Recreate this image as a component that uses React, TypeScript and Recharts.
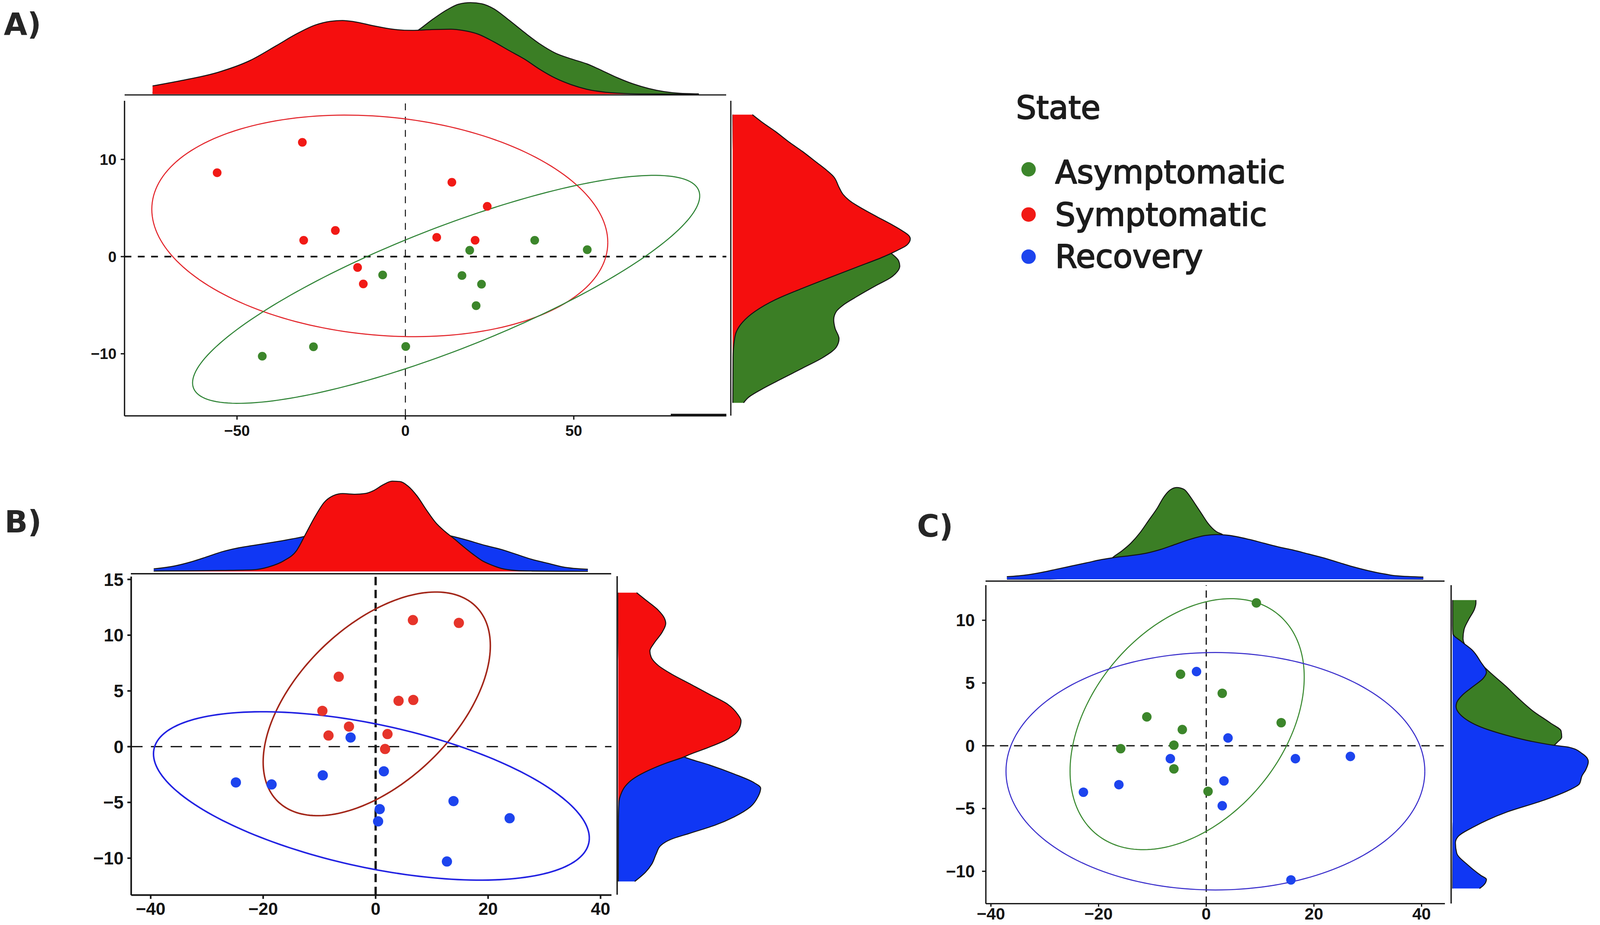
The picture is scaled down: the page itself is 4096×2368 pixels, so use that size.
import React from "react";
import {
  ScatterChart,
  Scatter,
  AreaChart,
  Area,
  XAxis,
  YAxis,
  ReferenceLine,
} from "recharts";

// Everything is laid out in reference pixels (4212 x 2435) and drawn at S.
const S = 0.972;
const INK = "#141414";

// ── Colours ──────────────────────────────────────────────────
const FILL_RED = "#F50E0E";
const FILL_GREEN = "#3B7E25";
const FILL_BLUE = "#1037F4";
const PT_GREEN = "#3C862B";
const PT_RED = "#F11A16";
const PT_RED_B = "#E6342A";
const PT_BLUE = "#1D44EE";

// ── Legend ───────────────────────────────────────────────────
const LEGEND_TITLE = "State";
const STATES = ["Asymptomatic", "Symptomatic", "Recovery"];

// ── Panel A: PCA scores [PC1, PC2] ───────────────────────────
const A_ASYM = [
  [19.1, 0.65], [38.4, 1.68], [54.0, 0.71], [-6.75, -1.89], [16.8, -1.95],
  [22.6, -2.84], [21.0, -5.05], [-27.3, -9.28], [-42.5, -10.25], [0.1, -9.25],
];
const A_SYMP = [
  [-55.9, 8.63], [-30.6, 11.76], [13.8, 7.65], [24.3, 5.17], [-20.8, 2.69],
  [-30.2, 1.68], [9.3, 1.98], [20.7, 1.68], [-14.2, -1.12], [-12.5, -2.81],
];
// ellipse outlines: [centre x, centre y, half-width, half-height, correlation]
const A_ELL_ASYM = [12.1, -3.37, 75.3, 11.73, 0.82];
const A_ELL_SYMP = [-7.6, 3.16, 67.7, 11.4, -0.15];
const A_X_TICKS = [-50, 0, 50];
const A_Y_TICKS = [-10, 0, 10];
// marginal densities [position, relative density]
const A_TOP_ASYM = [
  [-75.1, 5], [-67.0, 8], [-55.5, 28], [-46.3, 48], [-38.3, 62], [-26.8, 68],
  [-15.3, 92], [-3.75, 138], [3.7, 168], [7.75, 195], [12.3, 222], [15.8, 237],
  [19.3, 241], [22.7, 238], [26.2, 225], [30.75, 195], [35.4, 162], [39.95, 132],
  [44.55, 108], [49.2, 93], [53.8, 80], [58.4, 62], [63.0, 43], [67.6, 27],
  [72.2, 15], [76.8, 6.7], [81.4, 2.3], [87.1, 0.7],
];
const A_TOP_SYMP = [
  [-75.1, 21.7], [-67.0, 35], [-55.5, 58], [-46.3, 88], [-38.3, 128], [-32.5, 158],
  [-26.8, 182], [-22.2, 192], [-18.7, 194], [-15.3, 191], [-9.5, 180], [-3.75, 171],
  [2.0, 168], [7.75, 170], [13.5, 171], [16.95, 168], [21.6, 158], [26.2, 138],
  [30.75, 115], [35.4, 92], [39.95, 65], [44.55, 42], [49.2, 25], [53.8, 13],
  [59.5, 5], [65.3, 1.7], [71.0, 0.5], [87.1, 0],
];
const A_RIGHT_ASYM = [
  [14.61, 0.3], [11.8, 1], [9.74, 3], [8.22, 6], [6.39, 14], [4.87, 40], [3.36, 110],
  [2.71, 180], [2.16, 260], [1.19, 360], [0.65, 405], [0.22, 421], [-0.43, 437],
  [-0.97, 440], [-1.52, 434], [-2.16, 416], [-2.92, 380], [-4.11, 326.7], [-4.98, 291],
  [-5.63, 273], [-6.49, 266], [-7.36, 269.5], [-8.44, 280], [-9.3, 273], [-10.39, 237],
  [-11.47, 184], [-12.55, 130], [-13.63, 77], [-14.5, 41], [-15.04, 28.6],
];
const A_RIGHT_SYMP = [
  [14.61, 51.8], [13.85, 76.8], [12.88, 112.5], [11.8, 148.2], [10.82, 183.9],
  [9.74, 219.6], [8.87, 248.1], [8.22, 266], [7.14, 280], [6.39, 291], [5.73, 309],
  [4.87, 344.5], [4.11, 380], [3.36, 416], [2.71, 444.5], [2.16, 464], [1.84, 467.7],
  [1.19, 458.7], [0.65, 433.8], [0, 398], [-1.08, 326.7], [-2.16, 255], [-3.25, 184],
  [-4.43, 112.5], [-5.63, 59], [-6.71, 26.8], [-7.79, 9], [-8.87, 3.6], [-10.39, 1],
  [-13.63, 0.4], [-15.04, 0.2],
];

// ── Panel B ──────────────────────────────────────────────────
const B_SYMP = [
  [6.63, 11.35], [14.8, 11.1], [-6.56, 6.27], [4.08, 4.11], [6.7, 4.19],
  [-9.47, 3.21], [-4.74, 1.8], [-8.38, 1.0], [2.11, 1.13], [1.68, -0.21],
];
const B_RECOV = [
  [-4.45, 0.82], [1.46, -2.21], [-9.4, -2.57], [-24.85, -3.21], [-18.5, -3.39],
  [13.85, -4.88], [23.83, -6.42], [0.73, -5.6], [0.44, -6.7], [12.68, -10.3],
];
const B_ELL_SYMP = [0.2, 3.84, 20.2, 10.03, 0.52];
const B_ELL_RECOV = [-0.75, -4.42, 38.75, 7.55, -0.5];
const B_X_TICKS = [-40, -20, 0, 20, 40];
const B_Y_TICKS = [-10, -5, 0, 5, 10, 15];
const B_TOP_SYMP = [
  [-39.4, 1], [-32.8, 1.7], [-27.3, 2.7], [-21.8, 4.3], [-19.0, 11.7], [-16.25, 28.3],
  [-14.0, 55], [-12.4, 98.3], [-10.7, 145], [-9.1, 181.7], [-7.4, 200], [-5.8, 205],
  [-3.6, 203.3], [-1.9, 205], [-0.26, 213.3], [1.4, 228.3], [3.0, 237.7], [4.4, 236.7],
  [5.8, 225], [7.45, 198.3], [9.1, 161.7], [10.75, 128.3], [12.4, 105], [14.1, 85],
  [15.7, 65], [17.4, 45], [19.0, 28.3], [20.7, 16.7], [22.3, 8.3], [25.1, 2.3],
  [27.85, 1], [33.4, 0.3], [37.8, 0.3],
];
const B_TOP_RECOV = [
  [-39.4, 6.7], [-35.5, 15], [-32.8, 25], [-30.0, 38.3], [-27.3, 51.7], [-24.5, 61.7],
  [-21.8, 68.3], [-19.0, 75], [-16.25, 81.7], [-13.5, 89.3], [-10.7, 98.3], [-5.2, 111.7],
  [0.3, 115], [5.8, 111.7], [11.3, 100], [13.0, 95], [15.7, 85], [19.6, 68.3],
  [22.3, 58.3], [25.1, 45], [27.85, 31.7], [30.6, 21.7], [33.4, 11.7], [37.8, 5.7],
];
const B_RIGHT_SYMP = [
  [13.78, 48.3], [13.14, 71.7], [12.22, 105], [11.48, 121.7], [11.02, 125], [10.2, 115],
  [9.28, 95], [8.54, 83.3], [7.99, 86.7], [7.26, 105], [6.52, 138.3], [5.61, 188.3],
  [4.69, 238.3], [3.77, 288.3], [2.85, 315], [2.3, 323.3], [1.56, 318.3], [0.65, 288.3],
  [-0.09, 238.3], [-0.73, 188.3], [-0.97, 171.7], [-1.56, 121.7], [-2.29, 71.7],
  [-2.94, 38.3], [-3.58, 18.3], [-4.31, 6.7], [-5.05, 1.7], [-6.88, 0.3], [-12.12, 0],
];
const B_RIGHT_RECOV = [
  [13.78, 0], [9.28, 0.5], [7.26, 2], [5.61, 5], [3.77, 15], [2.3, 35], [1.56, 60],
  [0.65, 100], [-0.09, 135], [-0.73, 162], [-0.97, 175], [-1.65, 238.3], [-2.48, 305],
  [-3.21, 355], [-3.76, 375], [-4.5, 368.3], [-5.42, 348.3], [-6.33, 305], [-7.07, 255],
  [-7.8, 188.3], [-8.35, 138.3], [-8.9, 111.7], [-9.64, 100], [-10.56, 88.3],
  [-11.29, 71.7], [-12.12, 43.3],
];

// ── Panel C ──────────────────────────────────────────────────
const C_ASYM = [
  [9.31, 11.38], [-4.78, 5.7], [2.97, 4.18], [-11.04, 2.3], [13.92, 1.84],
  [-4.45, 1.29], [-6.01, 0.05], [-15.9, -0.23], [-6.01, -1.84], [0.33, -3.63],
];
const C_RECOV = [
  [-1.81, 5.91], [4.04, 0.62], [-6.67, -1.03], [16.56, -1.03], [26.77, -0.85],
  [3.29, -2.8], [-16.23, -3.1], [-22.82, -3.7], [2.97, -4.78], [15.73, -10.69],
];
const C_ELL_ASYM = [-3.55, 1.72, 21.75, 10.0, 0.375];
const C_ELL_RECOV = [1.7, -2.03, 38.9, 9.46, 0.0];
const C_X_TICKS = [-40, -20, 0, 20, 40];
const C_Y_TICKS = [-10, -5, 0, 5, 10];
const C_TOP_ASYM = [
  [-36.98, 0], [-30.4, 0.3], [-24.91, 3.3], [-22.17, 11.7], [-19.42, 28.3], [-17.23, 58.3],
  [-15.58, 75], [-13.94, 95], [-12.29, 121.7], [-10.64, 155], [-9.0, 188.3], [-7.9, 215],
  [-6.8, 233.3], [-5.43, 241.7], [-4.06, 236.7], [-2.96, 218.3], [-1.86, 195],
  [-0.77, 171.7], [0.33, 148.3], [1.97, 125], [3.07, 117.7], [4.17, 105], [8.01, 68.3],
  [13.5, 41.7], [18.98, 21.7], [24.47, 8.3], [29.96, 1.7], [40.38, 0],
];
const C_TOP_RECOV = [
  [-36.98, 6.7], [-33.14, 11.7], [-30.4, 18.3], [-27.65, 26.7], [-24.91, 35],
  [-22.17, 43.3], [-19.42, 51.7], [-17.23, 56.7], [-13.94, 62.3], [-11.19, 68.3],
  [-8.45, 78.3], [-5.71, 91.7], [-2.96, 105], [-0.22, 115], [1.97, 117.7], [4.17, 115.7],
  [8.01, 105], [10.75, 95], [13.5, 85], [16.24, 76.7], [18.98, 66.7], [21.73, 56.7],
  [24.47, 45], [27.21, 33.3], [29.96, 23.3], [32.7, 15], [35.44, 9], [40.38, 5.7],
];
const C_RIGHT_ASYM = [
  [11.61, 61.3], [11.37, 61.3], [10.88, 57.3], [10.07, 42.3], [9.26, 30], [8.54, 27.3],
  [7.81, 37.3], [7.16, 57.3], [6.35, 80.7], [5.7, 104], [4.73, 140.7], [3.76, 174],
  [2.79, 210.7], [1.82, 257.3], [1.17, 285.7], [0.69, 287.3], [0.28, 275.7], [0.04, 267.3],
  [-0.93, 207.3], [-1.74, 174], [-2.55, 140.7], [-3.36, 90.7], [-4.17, 40.7],
  [-4.98, 7.3], [-6.59, 0.7], [-11.37, 0],
];
const C_RIGHT_RECOV = [
  [11.61, 0], [9.59, 0], [8.94, 0.7], [8.29, 24], [7.65, 50.7], [6.68, 74], [5.87, 89],
  [5.38, 80.7], [4.73, 54], [4.09, 27.3], [3.44, 10.7], [3.12, 9], [2.47, 20.7],
  [1.5, 74], [0.85, 140.7], [0.36, 207.3], [0.04, 267.3], [-0.12, 307.3], [-0.61, 340.7],
  [-1.25, 357.3], [-1.9, 350.7], [-2.39, 340.7], [-3.03, 334], [-3.52, 307.3],
  [-4.33, 240.7], [-5.3, 140.7], [-6.43, 57.3], [-7.24, 14], [-7.73, 7.3], [-8.54, 10.7],
  [-9.51, 40.7], [-10.32, 74], [-10.64, 89], [-11.13, 80.7], [-11.37, 70.7],
];

// ── Helpers ──────────────────────────────────────────────────
const toPts = (arr: number[][]) => arr.map(([x, y]) => ({ x, y }));

// outline of a confidence ellipse given its extents and correlation
function ellipse([cx, cy, ax, ay, rho]: number[], n = 200) {
  const phi = Math.acos(rho);
  const out: { x: number; y: number }[] = [];
  for (let i = 0; i <= n; i++) {
    const t = (i / n) * 2 * Math.PI;
    out.push({ x: cx + ax * Math.cos(t), y: cy + ay * Math.cos(t - phi) });
  }
  return out;
}

function mergeRows(key: string, series: Record<string, number[][]>, desc = false) {
  const map = new Map<number, any>();
  Object.entries(series).forEach(([name, pts]) => {
    pts.forEach(([p, d]) => {
      const row = map.get(p) ?? { [key]: p };
      row[name] = d;
      map.set(p, row);
    });
  });
  const rows = [...map.values()];
  rows.sort((a, b) => (desc ? b[key] - a[key] : a[key] - b[key]));
  return rows;
}

const fmt = (v: number) => (v < 0 ? "\u2212" + Math.abs(v) : String(v));

// ── Scatter panel ────────────────────────────────────────────

function ScatterPanel(p: any) {
  const YW = 150, MT = 40, MR = 12;
  const XH = p.xh ?? 90;
  const [L, T, R, B] = p.box;
  const tickStyle = (fs: number) => ({
    fontSize: fs * S,
    fontFamily: "'Liberation Sans', Arial, sans-serif",
    fontWeight: 700,
    fill: INK,
  });
  const axisLine = { stroke: INK, strokeWidth: p.axisW * S };
  return (
    <div style={{ position: "absolute", left: (L - YW) * S, top: (T - MT) * S }}>
      <ScatterChart
        width={(R - L + YW + MR) * S}
        height={(B - T + MT + XH) * S}
        margin={{ top: MT * S, right: MR * S, bottom: 0, left: 0 }}
      >
        <XAxis
          type="number"
          dataKey="x"
          domain={p.xDomain}
          allowDataOverflow
          ticks={p.xTicks}
          interval={0}
          height={XH * S}
          tickFormatter={fmt}
          tick={tickStyle(p.xFont)}
          tickSize={(p.xTickLen ?? 10) * S}
          tickMargin={p.xGap * S}
          axisLine={axisLine}
          tickLine={axisLine}
        />
        <YAxis
          type="number"
          dataKey="y"
          domain={p.yDomain}
          allowDataOverflow
          ticks={p.yTicks}
          interval={0}
          width={YW * S}
          tickFormatter={fmt}
          tick={tickStyle(p.yFont)}
          tickSize={10 * S}
          tickMargin={p.yGap * S}
          axisLine={axisLine}
          tickLine={axisLine}
        />
        <ReferenceLine
          x={0}
          stroke={INK}
          strokeWidth={p.vline[0] * S}
          strokeDasharray={`${p.vline[1] * S} ${p.vline[2] * S}`}
        />
        <ReferenceLine
          y={0}
          stroke={INK}
          strokeWidth={p.hline[0] * S}
          strokeDasharray={`${p.hline[1] * S} ${p.hline[2] * S}`}
        />
        {p.children}
        {p.ellipses.map((e: any, i: number) => (
          <Scatter
            key={"e" + i}
            data={e.data}
            line={{ stroke: e.color, strokeWidth: e.w * S }}
            lineType="joint"
            shape={() => <g />}
            isAnimationActive={false}
          />
        ))}
        {p.groups.map((g: any, i: number) => (
          <Scatter
            key={"g" + i}
            data={g.data}
            fill={g.color}
            shape={(sp: any) => <circle cx={sp.cx} cy={sp.cy} r={g.r * S} fill={g.color} />}
            isAnimationActive={false}
          />
        ))}
      </ScatterChart>
    </div>
  );
}

// ── Marginal densities ───────────────────────────────────────

function TopDensity(p: any) {
  const AX = 4;
  const plotH = p.base - p.top;
  return (
    <div style={{ position: "absolute", left: p.L * S, top: p.top * S }}>
      <AreaChart
        width={(p.R - p.L) * S}
        height={(plotH + AX) * S}
        data={p.rows}
        margin={{ top: 0, right: 0, bottom: 0, left: 0 }}
      >
        <XAxis
          type="number"
          dataKey="x"
          domain={p.xDomain}
          allowDataOverflow
          tick={false}
          tickLine={false}
          height={AX * S}
          axisLine={{ stroke: INK, strokeWidth: p.lineW * S }}
        />
        <YAxis type="number" domain={[-p.gap, plotH - p.gap]} allowDataOverflow hide />
        {p.series.map((s: any) => (
          <Area
            key={s.key}
            dataKey={s.key}
            type="monotone"
            fill={s.fill}
            fillOpacity={1}
            stroke={INK}
            strokeWidth={2.6 * S}
            connectNulls
            dot={false}
            activeDot={false}
            isAnimationActive={false}
          />
        ))}
      </AreaChart>
    </div>
  );
}

function RightDensity(p: any) {
  const AX = 4;
  return (
    <div style={{ position: "absolute", left: (p.xLine - AX) * S, top: p.T * S }}>
      <AreaChart
        layout="vertical"
        width={(p.width + AX) * S}
        height={(p.B - p.T) * S}
        data={p.rows}
        margin={{ top: 0, right: 0, bottom: 0, left: 0 }}
      >
        <XAxis type="number" domain={[-p.gap, p.width - p.gap]} allowDataOverflow hide />
        <YAxis
          type="number"
          dataKey="y"
          domain={p.yDomain}
          allowDataOverflow
          reversed
          width={AX * S}
          tick={false}
          tickLine={false}
          axisLine={{ stroke: INK, strokeWidth: p.lineW * S }}
        />
        {p.series.map((s: any) => (
          <Area
            key={s.key}
            dataKey={s.key}
            type="monotone"
            fill={s.fill}
            fillOpacity={1}
            stroke={INK}
            strokeWidth={2.6 * S}
            connectNulls
            dot={false}
            activeDot={false}
            isAnimationActive={false}
          />
        ))}
      </AreaChart>
    </div>
  );
}

// ── Page ─────────────────────────────────────────────────────

export default function App() {
  const A_BOX = [328, 265, 1913, 1095];
  const A_XD = [-83.4, 95.3];
  const A_YD = [-16.39, 16.04];
  const B_BOX = [345, 1518, 1610, 2357];
  const B_XD = [-43.47, 41.94];
  const B_YD = [-13.31, 15.26];
  const C_BOX = [2596, 1541, 3805, 2380];
  const C_XD = [-40.94, 44.33];
  const C_YD = [-12.58, 12.8];

  const labelFont = "'DejaVu Sans', Verdana, sans-serif";
  const legendDots = [PT_GREEN, PT_RED, PT_BLUE];
  const legendY = [482, 595, 705];
  const dotY = [446, 565, 676];

  return (
    <div
      style={{
        position: "absolute",
        left: 0,
        top: 0,
        width: 4096,
        height: 2368,
        background: "#ffffff",
        overflow: "hidden",
      }}
    >
      {/* Panel A */}
      <TopDensity
        L={A_BOX[0]} R={A_BOX[2]} top={0} base={250} gap={2} lineW={3.2}
        xDomain={A_XD}
        rows={mergeRows("x", { asym: A_TOP_ASYM, symp: A_TOP_SYMP })}
        series={[{ key: "asym", fill: FILL_GREEN }, { key: "symp", fill: FILL_RED }]}
      />
      <RightDensity
        xLine={1925} T={A_BOX[1]} B={A_BOX[3]} gap={5} width={495} lineW={3.2}
        yDomain={A_YD}
        rows={mergeRows("y", { asym: A_RIGHT_ASYM, symp: A_RIGHT_SYMP }, true)}
        series={[{ key: "asym", fill: FILL_GREEN }, { key: "symp", fill: FILL_RED }]}
      />
      <ScatterPanel
        box={A_BOX} xDomain={A_XD} yDomain={A_YD} xTicks={A_X_TICKS} yTicks={A_Y_TICKS}
        xFont={40} yFont={40} xGap={14} yGap={11} axisW={3.4}
        vline={[2.6, 18, 17]} hline={[4.2, 18, 17]}
        ellipses={[
          { data: ellipse(A_ELL_SYMP), color: "#E3262C", w: 2.8 },
          { data: ellipse(A_ELL_ASYM), color: "#2F8436", w: 2.8 },
        ]}
        groups={[
          { data: toPts(A_SYMP), color: PT_RED, r: 11.5 },
          { data: toPts(A_ASYM), color: PT_GREEN, r: 11.5 },
        ]}
      >
        <ReferenceLine
          segment={[{ x: 78.8, y: -16.27 }, { x: 95.3, y: -16.27 }]}
          stroke={INK}
          strokeWidth={5 * S}
        />
      </ScatterPanel>

      {/* Panel B */}
      <TopDensity
        L={B_BOX[0]} R={B_BOX[2]} top={1250} base={1511} gap={6} lineW={3.6}
        xDomain={B_XD}
        rows={mergeRows("x", { recov: B_TOP_RECOV, symp: B_TOP_SYMP })}
        series={[{ key: "recov", fill: FILL_BLUE }, { key: "symp", fill: FILL_RED }]}
      />
      <RightDensity
        xLine={1625} T={B_BOX[1]} B={B_BOX[3]} gap={3} width={400} lineW={3.6}
        yDomain={B_YD}
        rows={mergeRows("y", { recov: B_RIGHT_RECOV, symp: B_RIGHT_SYMP }, true)}
        series={[{ key: "recov", fill: FILL_BLUE }, { key: "symp", fill: FILL_RED }]}
      />
      <ScatterPanel
        box={B_BOX} xDomain={B_XD} yDomain={B_YD} xTicks={B_X_TICKS} yTicks={B_Y_TICKS}
        xFont={46} yFont={47} xGap={9} yGap={10} axisW={4.2} xh={76}
        vline={[6, 22, 12]} hline={[3.4, 30, 22]}
        ellipses={[
          { data: ellipse(B_ELL_SYMP), color: "#A3271A", w: 4 },
          { data: ellipse(B_ELL_RECOV), color: "#2222E2", w: 4 },
        ]}
        groups={[
          { data: toPts(B_SYMP), color: PT_RED_B, r: 13.5 },
          { data: toPts(B_RECOV), color: PT_BLUE, r: 13.5 },
        ]}
      />

      {/* Panel C */}
      <TopDensity
        L={C_BOX[0]} R={C_BOX[2]} top={1270} base={1531} gap={5} lineW={3.4}
        xDomain={C_XD}
        rows={mergeRows("x", { asym: C_TOP_ASYM, recov: C_TOP_RECOV })}
        series={[{ key: "asym", fill: FILL_GREEN }, { key: "recov", fill: FILL_BLUE }]}
      />
      <RightDensity
        xLine={3822} T={C_BOX[1]} B={C_BOX[3]} gap={4} width={386} lineW={3.4}
        yDomain={C_YD}
        rows={mergeRows("y", { asym: C_RIGHT_ASYM, recov: C_RIGHT_RECOV }, true)}
        series={[{ key: "asym", fill: FILL_GREEN }, { key: "recov", fill: FILL_BLUE }]}
      />
      <ScatterPanel
        box={C_BOX} xDomain={C_XD} yDomain={C_YD} xTicks={C_X_TICKS} yTicks={C_Y_TICKS}
        xFont={44} yFont={45} xGap={3} xTickLen={8} yGap={19} axisW={3.4} xh={54}
        vline={[3.2, 19, 12]} hline={[3.4, 22, 15]}
        ellipses={[
          { data: ellipse(C_ELL_ASYM), color: "#3A8A31", w: 2.8 },
          { data: ellipse(C_ELL_RECOV), color: "#3B30CC", w: 2.8 },
        ]}
        groups={[
          { data: toPts(C_ASYM), color: PT_GREEN, r: 12.5 },
          { data: toPts(C_RECOV), color: PT_BLUE, r: 12.5 },
        ]}
      />

      {/* Panel letters and legend */}
      <svg
        width={4096}
        height={2368}
        style={{ position: "absolute", left: 0, top: 0, pointerEvents: "none" }}
      >
        <g fontFamily={labelFont} fontWeight={700} fontSize={80 * S} fill="#262626">
          <text x={10 * S} y={92 * S}>A)</text>
          <text x={12 * S} y={1402 * S}>B)</text>
          <text x={2415 * S} y={1414 * S}>C)</text>
        </g>
        <g
          fontFamily={labelFont}
          fontSize={84 * S}
          fill="#1c1c1c"
          stroke="#1c1c1c"
          strokeWidth={2.6 * S}
          strokeLinejoin="round"
        >
          <text x={2676 * S} y={313 * S}>{LEGEND_TITLE}</text>
          {STATES.map((s, i) => (
            <text key={s} x={2779 * S} y={legendY[i] * S}>{s}</text>
          ))}
        </g>
        {STATES.map((s, i) => (
          <circle key={s} cx={2709 * S} cy={dotY[i] * S} r={19 * S} fill={legendDots[i]} />
        ))}
      </svg>
    </div>
  );
}
